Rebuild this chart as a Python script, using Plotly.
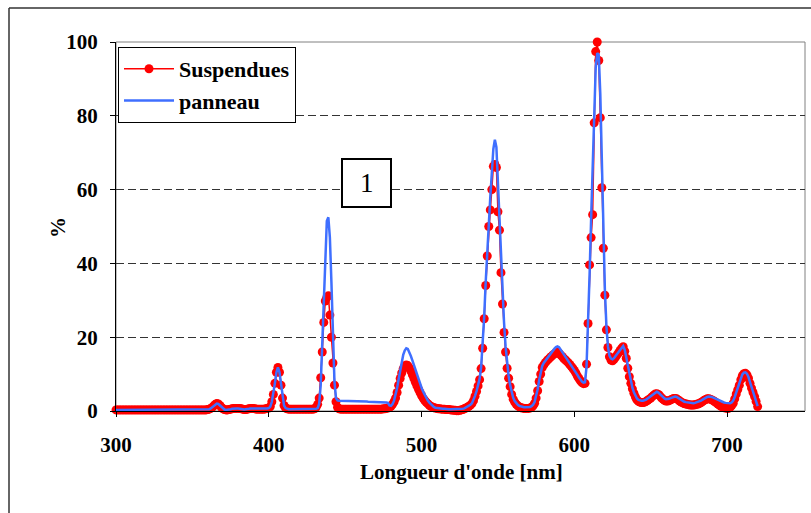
import plotly.graph_objects as go

# Wavelength sampling (nm), 1 nm step
wavelength_nm = list(range(300, 721))

suspendues = [
    # 300-359
    0.3, 0.3, 0.3, 0.3, 0.3, 0.3, 0.3, 0.3, 0.3, 0.3,
    0.3, 0.3, 0.3, 0.3, 0.3, 0.3, 0.3, 0.3, 0.3, 0.3,
    0.3, 0.3, 0.3, 0.3, 0.3, 0.3, 0.3, 0.3, 0.3, 0.3,
    0.3, 0.3, 0.3, 0.3, 0.3, 0.3, 0.3, 0.3, 0.3, 0.3,
    0.3, 0.3, 0.3, 0.3, 0.3, 0.3, 0.3, 0.3, 0.3, 0.3,
    0.3, 0.3, 0.3, 0.3, 0.3, 0.3, 0.3, 0.3, 0.3, 0.3,
    # 360-399
    0.4, 0.5, 0.7, 1.0, 1.4, 1.8, 2.0, 1.9, 1.5, 1.0,
    0.6, 0.4, 0.3, 0.3, 0.4, 0.5, 0.6, 0.7, 0.7, 0.7,
    0.7, 0.7, 0.6, 0.5, 0.4, 0.4, 0.5, 0.6, 0.7, 0.7,
    0.7, 0.6, 0.5, 0.5, 0.5, 0.5, 0.5, 0.5, 0.6, 0.7,
    # 400-439
    0.8, 1.2, 2.5, 4.5, 7.5, 10.5, 11.8, 10.5, 7.0, 3.5,
    1.5, 0.8, 0.6, 0.5, 0.5, 0.5, 0.5, 0.5, 0.5, 0.5,
    0.5, 0.5, 0.5, 0.5, 0.5, 0.5, 0.5, 0.5, 0.5, 0.5,
    0.6, 1.0, 1.8, 3.5, 9.0, 16.0, 24.0, 29.8, 30.8, 31.2,
    # 440-479
    26.0, 20.0, 13.0, 7.0, 2.5, 1.0, 0.6, 0.5, 0.5, 0.5,
    0.5, 0.5, 0.5, 0.5, 0.5, 0.5, 0.5, 0.5, 0.5, 0.5,
    0.5, 0.5, 0.5, 0.5, 0.5, 0.5, 0.5, 0.5, 0.5, 0.5,
    0.5, 0.5, 0.5, 0.5, 0.5, 0.6, 0.6, 0.7, 0.8, 1.0,
    # 480-519
    1.3, 1.8, 2.5, 3.5, 5.0, 7.0, 8.8, 10.3, 11.5, 12.2,
    12.5, 12.3, 11.7, 10.8, 9.8, 8.8, 7.8, 6.8, 5.9, 5.0,
    4.2, 3.5, 2.9, 2.4, 2.0, 1.6, 1.3, 1.1, 0.9, 0.8,
    0.7, 0.6, 0.6, 0.5, 0.5, 0.5, 0.4, 0.4, 0.4, 0.3,
    # 520-559
    0.3, 0.2, 0.2, 0.1, 0.1, 0.2, 0.3, 0.4, 0.6, 0.8,
    1.0, 1.3, 1.6, 2.0, 2.8, 4.0, 5.3, 6.8, 8.5, 11.5,
    17.0, 25.0, 34.0, 42.0, 50.0, 54.5, 60.0, 66.3, 66.8, 66.0,
    54.0, 49.0, 37.5, 29.0, 21.3, 16.0, 11.6, 8.9, 6.6, 4.5,
    # 560-599
    3.2, 2.4, 1.8, 1.4, 1.1, 0.9, 0.8, 0.7, 0.7, 0.7,
    0.7, 0.8, 1.0, 1.4, 2.1, 3.5, 5.5, 8.0, 10.0, 11.8,
    12.5, 13.1, 13.6, 14.0, 14.4, 14.8, 15.2, 15.5, 15.8, 16.0,
    15.7, 15.2, 14.8, 14.3, 13.9, 13.5, 13.1, 12.6, 12.1, 11.6,
    # 600-639
    11.0, 10.3, 9.5, 8.8, 8.2, 7.7, 7.4, 7.5, 12.7, 23.7,
    39.6, 47.0, 53.2, 78.1, 97.4, 100.0, 95.0, 79.5, 60.5, 44.1,
    31.4, 22.0, 17.2, 14.7, 13.8, 13.6, 14.0, 14.6, 15.2, 15.8,
    16.4, 17.0, 17.4, 16.2, 14.3, 11.6, 9.3, 7.5, 6.0, 4.8,
    # 640-679
    3.8, 3.0, 2.6, 2.4, 2.3, 2.3, 2.4, 2.6, 2.9, 3.2,
    3.5, 3.9, 4.3, 4.6, 4.7, 4.5, 4.1, 3.6, 3.2, 2.9,
    2.7, 2.7, 2.8, 3.0, 3.2, 3.4, 3.4, 3.3, 3.0, 2.7,
    2.4, 2.2, 2.0, 1.9, 1.8, 1.7, 1.6, 1.6, 1.6, 1.7,
    # 680-720
    1.8, 1.9, 2.1, 2.3, 2.6, 2.9, 3.1, 3.3, 3.3, 3.2,
    3.0, 2.8, 2.5, 2.2, 1.9, 1.6, 1.3, 1.1, 0.9, 0.8,
    0.7, 0.7, 1.0, 1.5, 2.1, 3.3, 4.6, 5.8, 7.0, 8.5,
    9.6, 10.1, 10.2, 9.8, 8.9, 7.5, 6.2, 5.0, 3.9, 2.6,
    1.2,
]

panneau = [
    # 300-359
    0.3, 0.3, 0.3, 0.3, 0.3, 0.3, 0.3, 0.3, 0.3, 0.3,
    0.3, 0.3, 0.3, 0.3, 0.3, 0.3, 0.3, 0.3, 0.3, 0.3,
    0.3, 0.3, 0.3, 0.3, 0.3, 0.3, 0.3, 0.3, 0.3, 0.3,
    0.3, 0.3, 0.3, 0.3, 0.3, 0.3, 0.3, 0.3, 0.3, 0.3,
    0.3, 0.3, 0.3, 0.3, 0.3, 0.3, 0.3, 0.3, 0.3, 0.3,
    0.3, 0.3, 0.3, 0.3, 0.3, 0.3, 0.3, 0.3, 0.3, 0.3,
    # 360-399
    0.4, 0.5, 0.7, 1.0, 1.4, 1.8, 2.0, 1.9, 1.5, 1.0,
    0.6, 0.4, 0.3, 0.3, 0.4, 0.5, 0.6, 0.7, 0.7, 0.7,
    0.7, 0.7, 0.6, 0.5, 0.4, 0.4, 0.5, 0.6, 0.7, 0.7,
    0.7, 0.6, 0.5, 0.5, 0.5, 0.5, 0.5, 0.5, 0.6, 0.7,
    # 400-439
    0.8, 1.2, 2.5, 4.5, 7.5, 10.5, 11.8, 10.5, 7.0, 3.5,
    1.5, 0.8, 0.6, 0.5, 0.5, 0.5, 0.5, 0.5, 0.5, 0.5,
    0.5, 0.5, 0.5, 0.5, 0.5, 0.5, 0.5, 0.5, 0.5, 0.5,
    0.5, 0.6, 0.8, 2.0, 7.0, 18.0, 32.0, 45.0, 51.5, 52.5,
    # 440-479
    47.0, 35.0, 20.0, 8.0, 3.5, 2.9, 2.8, 2.8, 2.8, 2.8,
    2.8, 2.8, 2.7, 2.7, 2.7, 2.7, 2.7, 2.7, 2.7, 2.6,
    2.6, 2.6, 2.6, 2.6, 2.6, 2.5, 2.5, 2.5, 2.5, 2.5,
    2.5, 2.5, 2.4, 2.4, 2.4, 2.3, 2.3, 2.3, 2.2, 1.5,
    # 480-519
    1.4, 1.9, 2.8, 4.2, 6.2, 8.6, 11.0, 13.3, 15.2, 16.4,
    17.0, 16.8, 16.0, 14.9, 13.7, 12.4, 11.1, 9.8, 8.6, 7.4,
    6.3, 5.3, 4.4, 3.6, 2.9, 2.3, 1.8, 1.4, 1.1, 0.9,
    0.8, 0.7, 0.7, 0.6, 0.6, 0.6, 0.5, 0.5, 0.5, 0.5,
    # 520-559
    0.5, 0.4, 0.4, 0.4, 0.4, 0.4, 0.5, 0.6, 0.7, 0.9,
    1.1, 1.4, 1.7, 2.1, 2.9, 4.1, 5.4, 6.9, 8.7, 11.8,
    17.5, 25.5, 35.0, 44.0, 52.0, 58.0, 64.5, 71.0, 73.5, 71.5,
    62.0, 52.0, 41.0, 32.0, 24.0, 17.5, 12.8, 9.5, 7.0, 5.0,
    # 560-599
    3.6, 2.7, 2.1, 1.7, 1.4, 1.2, 1.1, 1.0, 1.0, 1.0,
    1.0, 1.1, 1.3, 1.7, 2.4, 3.8, 5.9, 8.4, 10.6, 12.2,
    13.0, 13.6, 14.2, 14.8, 15.4, 16.0, 16.5, 16.9, 17.3, 17.5,
    17.3, 16.7, 16.0, 15.3, 14.7, 14.1, 13.5, 13.0, 12.4, 11.8,
    # 600-639
    11.2, 10.5, 9.8, 9.1, 8.5, 8.0, 7.7, 7.8, 12.0, 22.0,
    37.0, 52.0, 66.0, 82.0, 93.0, 97.0, 96.5, 86.0, 66.0, 47.0,
    33.0, 23.0, 17.5, 15.0, 14.2, 14.0, 14.3, 14.9, 15.5, 16.1,
    16.7, 17.3, 17.6, 16.6, 14.6, 12.0, 9.7, 7.8, 6.3, 5.1,
    # 640-679
    4.1, 3.4, 3.0, 2.8, 2.8, 2.8, 2.9, 3.1, 3.4, 3.7,
    4.0, 4.4, 4.8, 5.1, 5.2, 5.0, 4.6, 4.1, 3.7, 3.4,
    3.2, 3.2, 3.3, 3.5, 3.7, 3.9, 3.9, 3.8, 3.5, 3.2,
    2.9, 2.7, 2.5, 2.4, 2.3, 2.2, 2.1, 2.1, 2.1, 2.2,
    # 680-720
    2.3, 2.4, 2.6, 2.8, 3.1, 3.4, 3.6, 3.8, 3.9, 3.9,
    3.8, 3.6, 3.4, 3.1, 2.9, 2.7, 2.5, 2.4, 2.3, 2.2,
    2.1, 2.0, 2.1, 2.3, 2.8, 3.8, 5.0, 6.2, 7.4, 8.8,
    9.9, 10.4, 10.5, 10.1, 9.2, 7.8, 6.4, 5.2, 4.0, 2.7,
    1.3,
]

x_ticks = [300, 400, 500, 600, 700]
y_ticks = [0, 20, 40, 60, 80, 100]
x_title = "Longueur d'onde [nm]"
y_title = "%"
box_label = "1"

FONT = "Liberation Serif"

fig = go.Figure()
fig.add_trace(go.Scatter(
    x=wavelength_nm, y=suspendues, name="Suspendues", mode="lines+markers",
    line=dict(color="#ff0000", width=1.5),
    marker=dict(color="#ff0000", size=9),
    cliponaxis=False,
))
fig.add_trace(go.Scatter(
    x=wavelength_nm, y=panneau, name="panneau", mode="lines",
    line=dict(color="#3f6fff", width=2.5),
    cliponaxis=False,
))

W, H = 811, 513
L, R, T, B = 116, 6, 42, 102
pw, ph = W - L - R, H - T - B


def px(xp):
    return (xp - L) / pw


def py(yp):
    return (H - B - yp) / ph


axis_font = dict(family=FONT, size=21, color="black", weight="bold")

fig.update_layout(
    width=W, height=H,
    margin=dict(l=L, r=R, t=T, b=B),
    paper_bgcolor="white", plot_bgcolor="white",
    showlegend=True,
    legend=dict(
        x=px(118), y=py(47), xanchor="left", yanchor="top",
        bordercolor="black", borderwidth=1, bgcolor="white",
        font=dict(family=FONT, size=22, color="black", weight="bold"),
        tracegroupgap=0, itemwidth=50,
    ),
    xaxis=dict(
        range=[300, 751], tickmode="array", tickvals=x_ticks,
        ticks="outside", ticklen=5, tickcolor="black", tickwidth=1,
        showline=True, linecolor="black", linewidth=1,
        showgrid=False, zeroline=False, tickfont=axis_font,
        ticklabelstandoff=10,
    ),
    yaxis=dict(
        range=[0, 100], tickmode="array", tickvals=y_ticks,
        ticks="outside", ticklen=5, tickcolor="black", tickwidth=1,
        showline=True, linecolor="black", linewidth=1,
        showgrid=True, gridcolor="#333333", gridwidth=1, griddash="8px,4px",
        zeroline=False, tickfont=axis_font, ticklabelstandoff=8,
    ),
    shapes=[
        # plot area grey frame
        dict(type="rect", xref="paper", yref="paper", x0=0, x1=1, y0=0, y1=1,
             line=dict(color="#808080", width=1), layer="below"),
        # outer chart border (left & top)
        dict(type="line", xref="paper", yref="paper", x0=px(9), x1=px(9),
             y0=py(8), y1=py(530), line=dict(color="#333333", width=1.5)),
        dict(type="line", xref="paper", yref="paper", x0=px(9), x1=px(830),
             y0=py(8), y1=py(8), line=dict(color="#333333", width=1.5)),
        # text box
        dict(type="rect", xref="paper", yref="paper", x0=px(342), x1=px(391),
             y0=py(207), y1=py(159), fillcolor="white",
             line=dict(color="black", width=2), layer="above"),
    ],
    annotations=[
        dict(text=box_label, xref="paper", yref="paper", x=px(366.5), y=py(183),
             showarrow=False, font=dict(family=FONT, size=27, color="black")),
        dict(text=x_title, xref="paper", yref="paper", x=px(461), y=py(486),
             showarrow=False, font=dict(family=FONT, size=21, color="black", weight="bold")),
        dict(text=y_title, xref="paper", yref="paper", x=px(44), y=py(228),
             showarrow=False, textangle=-90,
             font=dict(family=FONT, size=21, color="black", weight="bold")),
    ],
)

fig.write_html("out.html")
